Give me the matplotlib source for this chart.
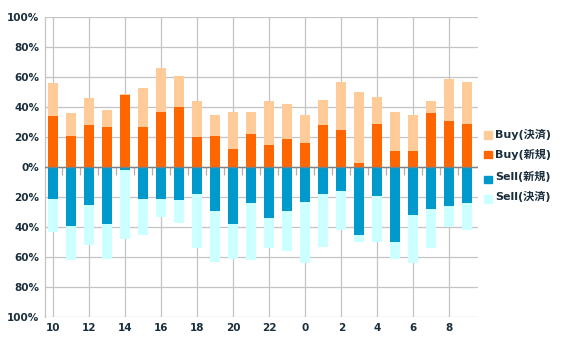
import matplotlib
matplotlib.use("Agg")
from matplotlib import pyplot as plt
from matplotlib.patches import Rectangle

hours = ["10", "11", "12", "13", "14", "15", "16", "17", "18", "19", "20", "21",
         "22", "23", "0", "1", "2", "3", "4", "5", "6", "7", "8", "9"]

# percentages
buy_new = [34, 21, 28, 27, 48, 27, 37, 40, 20, 21, 12, 22,
           15, 19, 16, 28, 25, 3, 29, 11, 11, 36, 31, 29]
buy_close = [22, 15, 18, 11, 1, 26, 29, 21, 24, 14, 25, 15,
             29, 23, 19, 17, 32, 47, 18, 26, 24, 8, 28, 28]
sell_new = [21, 39, 25, 38, 2, 21, 21, 22, 18, 29, 38, 24,
            34, 29, 23, 18, 16, 45, 19, 50, 32, 28, 26, 24]
sell_close = [22, 23, 27, 23, 46, 24, 12, 15, 36, 34, 23, 38,
              20, 27, 41, 35, 26, 5, 31, 11, 32, 26, 14, 18]

c_buy_close = "#ffcc99"
c_buy_new = "#ff6600"
c_sell_new = "#0099cc"
c_sell_close = "#ccffff"
txt = "#1a2e3b"

W, H = 580, 345
fig = plt.figure(figsize=(W / 100, H / 100), dpi=100)
ax = fig.add_axes([45 / W, 1 - 317.3 / H, (478 - 45) / W, (317.3 - 17) / H])

x = list(range(len(hours)))
w = 0.56
ax.bar(x, buy_new, w, color=c_buy_new, zorder=3)
ax.bar(x, buy_close, w, bottom=buy_new, color=c_buy_close, zorder=3)
ax.bar(x, [-v for v in sell_new], w, color=c_sell_new, zorder=3)
ax.bar(x, [-v for v in sell_close], w, bottom=[-v for v in sell_new],
       color=c_sell_close, zorder=3)

ax.set_xlim(-0.47, 23.6)
ax.set_ylim(-100, 100)

yt = list(range(-100, 101, 20))
ax.set_yticks(yt)
ax.set_yticklabels([str(abs(v)) + "%" for v in yt])
ax.set_xticks(x[::2])
ax.set_xticklabels(hours[::2])
ax.tick_params(length=0, labelsize=7.5, labelcolor=txt, pad=4)
for lab in ax.get_xticklabels() + ax.get_yticklabels():
    lab.set_fontweight("bold")

ax.grid(True, color="#c4c4c4", linewidth=0.9, zorder=0)
# small separators hanging under the zero line
ax.vlines([i + 0.5 for i in x[:-1]], -5.3, 0, color="#b0b0b0", linewidth=0.9, zorder=2)
ax.axhline(0, color="#808080", linewidth=1.0, zorder=4)
for s in ["top", "right", "bottom"]:
    ax.spines[s].set_visible(False)
ax.spines["left"].set_color("#c4c4c4")
ax.spines["left"].set_linewidth(0.9)

# legend drawn by hand (pixel positions)
labels = ["Buy(決済)", "Buy(新規)", "Sell(新規)", "Sell(決済)"]
colors = [c_buy_close, c_buy_new, c_sell_new, c_sell_close]
text_y = [135, 154.5, 176.5, 197]
box_y = [135, 154.5, 179.5, 199]
for lab, col, ty, by in zip(labels, colors, text_y, box_y):
    fig.add_artist(Rectangle((484 / W, 1 - (by + 3.7) / H), 7.5 / W, 7.5 / H,
                             transform=fig.transFigure, color=col))
    fig.text(495 / W, 1 - ty / H, lab, color=txt, fontsize=8, fontweight="bold",
             va="center", ha="left", family=["DejaVu Sans", "Noto Sans CJK JP"])

fig.savefig("out.png", dpi=100)
